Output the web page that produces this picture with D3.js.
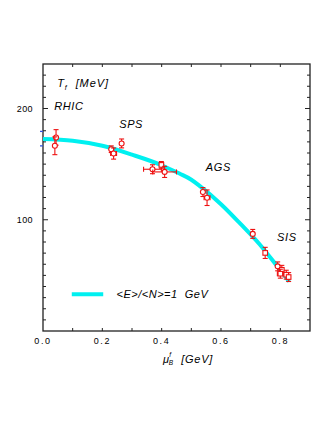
<!DOCTYPE html>
<html lang="en">
  <head>
    <meta charset="UTF-8" />
    <title>freeze-out curve</title>
    <style>
      body { margin: 0; background: #fff; }
      text { font-family: "Liberation Sans", Arial, sans-serif; }
    </style>
  </head>
  <body>
    <div id="wrapper"></div>
    <script src="https://d3js.org/d3.v7.min.js"></script>
    <script>
      // curve <E>/<N> = 1 GeV
      var curveMu = [0, 0.1, 0.2, 0.3, 0.4, 0.46, 0.5, 0.53, 0.6, 0.665, 0.73, 0.79, 0.83];
      var curveT = [172.5, 171, 166.5, 158.5, 149, 141.5, 136, 130, 114, 96.5, 78, 58, 44.5];

      // freeze-out points: mu, T, errT, errMu, marker
      var ptMu = [0.044, 0.040, 0.230, 0.238, 0.265, 0.369, 0.399, 0.410, 0.539, 0.553, 0.707, 0.749, 0.791, 0.805, 0.800, 0.820, 0.828];
      var ptT = [174, 166.5, 163.4, 159.5, 168.6, 145.4, 149.3, 143, 124.9, 119.8, 87.3, 70.2, 58.1, 55, 51.5, 50.6, 48.5];
      var ptErrT = [7, 8, 3, 5, 4, 4, 3, 5, 4, 7, 4, 5, 4, 4, 4, 4, 4];
      var ptErrMu = [0, 0, 0, 0.01, 0, 0.03, 0, 0.04, 0, 0.01, 0, 0, 0, 0, 0.01, 0, 0];
      var ptShape = ["c", "c", "c", "c", "c", "c", "s", "c", "c", "c", "c", "s", "c", "s", "s", "s", "s"];

      // small blue marks on the T axis
      var blueT = [179.4, 166.4];

      var xTicks = [0, 0.2, 0.4, 0.6, 0.8];
      var yTicks = [100, 200];

      var labels = [
        { t: "RHIC", mu: 0.038, T: 198.7 },
        { t: "SPS", mu: 0.257, T: 182.5 },
        { t: "AGS", mu: 0.549, T: 144.1 },
        { t: "SIS", mu: 0.789, T: 80.6 }
      ];

      var W = 333, H = 430;
      var margin = { top: 64, right: 23, bottom: 99, left: 43 };
      var width = W - margin.left - margin.right,
          height = H - margin.top - margin.bottom;

      var svg = d3.select("#wrapper").append("svg")
        .attr("width", W).attr("height", H);
      var g = svg.append("g")
        .attr("transform", "translate(" + margin.left + "," + margin.top + ")");

      var x = d3.scaleLinear().domain([0, 0.9]).range([0, width]);
      var y = d3.scaleLinear().domain([0, 240]).range([height, 0]);

      // frame
      g.append("rect").attr("width", width).attr("height", height)
        .attr("fill", "none").attr("stroke", "#222").attr("stroke-width", 1.3);

      // inward ticks
      var minorX = d3.range(1, 9).map(function (i) { return i / 10; });
      var minorY = d3.range(1, 24).map(function (i) { return i * 10; });
      var tk = g.append("g").attr("stroke", "#222").attr("stroke-width", 1);
      minorX.forEach(function (v) {
        tk.append("line").attr("x1", x(v)).attr("x2", x(v)).attr("y1", height).attr("y2", height - 3);
        tk.append("line").attr("x1", x(v)).attr("x2", x(v)).attr("y1", 0).attr("y2", 3);
      });
      minorY.forEach(function (v) {
        var len = (v % 100 === 0) ? 5 : 3;
        tk.append("line").attr("x1", 0).attr("x2", len).attr("y1", y(v)).attr("y2", y(v));
        tk.append("line").attr("x1", width).attr("x2", width - len).attr("y1", y(v)).attr("y2", y(v));
      });

      // tick labels
      g.selectAll(".xl").data(xTicks).enter().append("text")
        .attr("x", function (d) { return x(d); })
        .attr("y", height + 13)
        .attr("text-anchor", "middle")
        .attr("font-size", 9)
        .attr("letter-spacing", 1.6)
        .text(function (d) { return d.toFixed(1); });
      g.selectAll(".yl").data(yTicks).enter().append("text")
        .attr("x", -10)
        .attr("y", function (d) { return y(d) + 3; })
        .attr("text-anchor", "end")
        .attr("font-size", 9)
        .attr("letter-spacing", 0.4)
        .text(function (d) { return d; });

      // blue marks
      g.selectAll(".blue").data(blueT).enter().append("line")
        .attr("x1", -3).attr("x2", 0)
        .attr("y1", function (d) { return y(d); })
        .attr("y2", function (d) { return y(d); })
        .attr("stroke", "#3355dd").attr("stroke-width", 1.3);

      // curve
      var line = d3.line()
        .x(function (d) { return x(d[0]); })
        .y(function (d) { return y(d[1]); })
        .curve(d3.curveMonotoneX);
      g.append("path")
        .datum(curveMu.map(function (m, i) { return [m, curveT[i]]; }))
        .attr("d", line)
        .attr("fill", "none").attr("stroke", "#00f0f0").attr("stroke-width", 4);

      // data points
      var red = "#ee1111";
      var pts = g.append("g").attr("stroke", red).attr("stroke-width", 1.1).attr("fill", "none");
      ptMu.forEach(function (m, i) {
        var cx = x(m), cy = y(ptT[i]);
        var y1 = y(ptT[i] + ptErrT[i]), y2 = y(ptT[i] - ptErrT[i]);
        pts.append("line").attr("x1", cx).attr("x2", cx).attr("y1", y1).attr("y2", y2);
        pts.append("line").attr("x1", cx - 2.5).attr("x2", cx + 2.5).attr("y1", y1).attr("y2", y1);
        pts.append("line").attr("x1", cx - 2.5).attr("x2", cx + 2.5).attr("y1", y2).attr("y2", y2);
        if (ptErrMu[i] > 0) {
          var x1 = x(m - ptErrMu[i]), x2 = x(m + ptErrMu[i]);
          pts.append("line").attr("x1", x1).attr("x2", x2).attr("y1", cy).attr("y2", cy);
          pts.append("line").attr("x1", x1).attr("x2", x1).attr("y1", cy - 2.5).attr("y2", cy + 2.5);
          pts.append("line").attr("x1", x2).attr("x2", x2).attr("y1", cy - 2.5).attr("y2", cy + 2.5);
        }
        if (ptShape[i] === "s") {
          pts.append("rect").attr("x", cx - 2.3).attr("y", cy - 2.3)
            .attr("width", 4.6).attr("height", 4.6).attr("fill", "#fff");
        } else {
          pts.append("circle").attr("cx", cx).attr("cy", cy).attr("r", 2.5).attr("fill", "#fff");
        }
      });

      // labels in plot
      g.selectAll(".lab").data(labels).enter().append("text")
        .attr("x", function (d) { return x(d.mu); })
        .attr("y", function (d) { return y(d.T); })
        .attr("font-size", 11)
        .attr("font-style", "italic")
        .attr("letter-spacing", 0.6)
        .text(function (d) { return d.t; });

      var tl = g.append("text").attr("x", x(0.048)).attr("y", y(219.3))
        .attr("font-size", 11).attr("font-style", "italic").attr("letter-spacing", 0.9);
      tl.append("tspan").text("T");
      tl.append("tspan").attr("dy", 3).attr("font-size", 7).text("f");
      tl.append("tspan").attr("dy", -3).attr("xml:space", "preserve").text("  [MeV]");

      // legend
      g.append("line")
        .attr("x1", x(0.097)).attr("x2", x(0.203))
        .attr("y1", y(33)).attr("y2", y(33))
        .attr("stroke", "#00f0f0").attr("stroke-width", 4);
      g.append("text").attr("x", x(0.248)).attr("y", y(33) + 4)
        .attr("font-size", 11).attr("font-style", "italic").attr("letter-spacing", 0.5)
        .attr("xml:space", "preserve")
        .text("<E>/<N>=1  GeV");

      // x axis title
      var xt = svg.append("text").attr("x", 163).attr("y", 363)
        .attr("font-size", 11).attr("font-style", "italic").attr("letter-spacing", 0.7);
      xt.append("tspan").text("\u03bc");
      xt.append("tspan").attr("dx", -1).attr("dy", 2).attr("font-size", 6.5).text("B");
      xt.append("tspan").attr("dx", -4.5).attr("dy", -8).attr("font-size", 6.5).text("f");
      xt.append("tspan").attr("dx", 2).attr("dy", 6).attr("xml:space", "preserve").text("  [GeV]");
    </script>
  </body>
</html>
